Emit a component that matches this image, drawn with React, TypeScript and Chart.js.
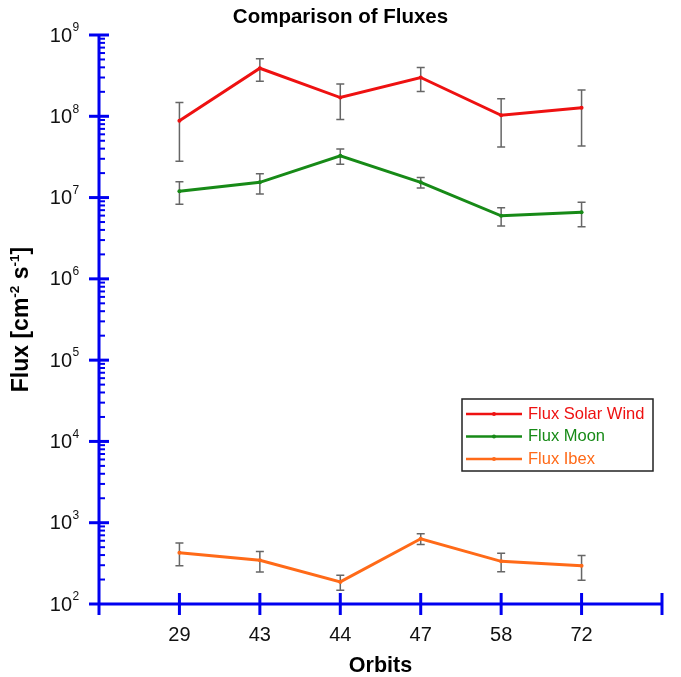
import React, { useEffect, useRef } from "react";
import { Chart, registerables } from "chart.js";

Chart.register(...registerables);

// Orbit numbers along the x axis
const orbits = ["29", "43", "44", "47", "58", "72"];

// Flux values [cm^-2 s^-1] with symmetric error bars
const solarWind = [8.8e7, 3.9e8, 1.7e8, 3.0e8, 1.03e8, 1.27e8];
const solarWindErr = [6.0e7, 1.2e8, 7.9e7, 9.8e7, 6.1e7, 8.4e7];

const moon = [1.2e7, 1.54e7, 3.27e7, 1.54e7, 5.97e6, 6.58e6];
const moonErr = [3.7e6, 4.3e6, 7.0e6, 2.3e6, 1.5e6, 2.2e6];

const ibex = [428, 345, 187, 635, 335, 296];
const ibexErr = [133, 97, 39, 95, 85, 100];

// Decade exponents shown on the y axis
const yExponents = [2, 3, 4, 5, 6, 7, 8, 9];

const RED = "#ee1111";
const GREEN = "#178a17";
const ORANGE = "#ff6a18";
const BLUE = "#0000f0";
const FONT = "'Liberation Sans', Arial, sans-serif";

const seriesList = [
  { label: "Flux Solar Wind", values: solarWind, errors: solarWindErr, color: RED },
  { label: "Flux Moon", values: moon, errors: moonErr, color: GREEN },
  { label: "Flux Ibex", values: ibex, errors: ibexErr, color: ORANGE },
];

const errorBarPlugin = {
  id: "errorBars",
  beforeDatasetsDraw(chart: any) {
    const { ctx } = chart;
    const xs = chart.scales.x;
    const ys = chart.scales.y;
    ctx.save();
    ctx.strokeStyle = "#666666";
    ctx.lineWidth = 1.5;
    seriesList.forEach((s) => {
      s.values.forEach((v, i) => {
        const px = xs.getPixelForValue(i + 1);
        const top = ys.getPixelForValue(v + s.errors[i]);
        const bot = ys.getPixelForValue(v - s.errors[i]);
        ctx.beginPath();
        ctx.moveTo(px, top);
        ctx.lineTo(px, bot);
        ctx.moveTo(px - 4, top);
        ctx.lineTo(px + 4, top);
        ctx.moveTo(px - 4, bot);
        ctx.lineTo(px + 4, bot);
        ctx.stroke();
      });
    });
    ctx.restore();
  },
};

const axesPlugin = {
  id: "fluxAxes",
  afterDraw(chart: any) {
    const { ctx, chartArea } = chart;
    const xs = chart.scales.x;
    const ys = chart.scales.y;
    const left = chartArea.left;
    const bottom = chartArea.bottom;
    ctx.save();
    ctx.strokeStyle = BLUE;
    ctx.lineCap = "butt";

    // y axis line
    ctx.lineWidth = 3;
    ctx.beginPath();
    ctx.moveTo(left, ys.getPixelForValue(1e9) - 1);
    ctx.lineTo(left, bottom + 1);
    ctx.stroke();

    // y major ticks
    yExponents.forEach((e) => {
      const py = ys.getPixelForValue(Math.pow(10, e));
      ctx.lineWidth = 3;
      ctx.beginPath();
      ctx.moveTo(left - 10, py);
      ctx.lineTo(left + (e === 2 ? 0 : 10), py);
      ctx.stroke();
    });
    // y minor ticks
    ctx.lineWidth = 2;
    yExponents.slice(0, -1).forEach((e) => {
      for (let m = 2; m <= 9; m++) {
        const py = ys.getPixelForValue(m * Math.pow(10, e));
        ctx.beginPath();
        ctx.moveTo(left, py);
        ctx.lineTo(left + 6, py);
        ctx.stroke();
      }
    });

    // x axis line
    const xEnd = xs.getPixelForValue(7);
    ctx.lineWidth = 3;
    ctx.beginPath();
    ctx.moveTo(left, bottom);
    ctx.lineTo(xEnd + 1, bottom);
    ctx.stroke();
    for (let k = 1; k <= 7; k++) {
      const px = xs.getPixelForValue(k);
      ctx.beginPath();
      ctx.moveTo(px, bottom - 11);
      ctx.lineTo(px, bottom + 11);
      ctx.stroke();
    }
    // extra crossing tick under the y axis
    ctx.beginPath();
    ctx.moveTo(left, bottom);
    ctx.lineTo(left, bottom + 11);
    ctx.stroke();

    // x tick labels
    ctx.fillStyle = "#111111";
    ctx.font = `20px ${FONT}`;
    ctx.textAlign = "center";
    ctx.textBaseline = "middle";
    orbits.forEach((o, i) => {
      ctx.fillText(o, xs.getPixelForValue(i + 1), bottom + 31);
    });

    // y tick labels as 10 with a superscript exponent
    yExponents.forEach((e) => {
      const py = ys.getPixelForValue(Math.pow(10, e));
      ctx.font = `20px ${FONT}`;
      ctx.textAlign = "right";
      ctx.textBaseline = "middle";
      ctx.fillText("10", left - 27, py + 1);
      ctx.font = `12px ${FONT}`;
      ctx.textAlign = "left";
      ctx.fillText(String(e), left - 26.5, py - 7);
    });

    // title
    ctx.font = `bold 20.5px ${FONT}`;
    ctx.textAlign = "center";
    ctx.textBaseline = "middle";
    ctx.fillStyle = "#000000";
    ctx.fillText("Comparison of Fluxes", (left + xEnd) / 2 - 40, 17);

    // x axis title
    ctx.font = `bold 21.5px ${FONT}`;
    ctx.fillText("Orbits", (left + xEnd) / 2, bottom + 62);

    // y axis title with superscripts
    const parts = [
      { t: "Flux [cm", sup: false },
      { t: "-2", sup: true },
      { t: " s", sup: false },
      { t: "-1", sup: true },
      { t: "]", sup: false },
    ];
    const fontFor = (sup: boolean) => (sup ? `bold 13.5px ${FONT}` : `bold 23px ${FONT}`);
    let total = 0;
    parts.forEach((p) => {
      ctx.font = fontFor(p.sup);
      total += ctx.measureText(p.t).width;
    });
    ctx.save();
    ctx.translate(22, (chartArea.top + bottom) / 2);
    ctx.rotate(-Math.PI / 2);
    ctx.textAlign = "left";
    ctx.textBaseline = "middle";
    let cx = -total / 2;
    parts.forEach((p) => {
      ctx.font = fontFor(p.sup);
      ctx.fillText(p.t, cx, p.sup ? -7 : 0);
      cx += ctx.measureText(p.t).width;
    });
    ctx.restore();

    // legend
    const bx = xEnd - 200;
    const by = 399;
    const bw = 191;
    const bh = 72;
    ctx.fillStyle = "#ffffff";
    ctx.fillRect(bx, by, bw, bh);
    ctx.strokeStyle = "#222222";
    ctx.lineWidth = 1.5;
    ctx.strokeRect(bx, by, bw, bh);
    seriesList.forEach((s, i) => {
      const ry = by + 15 + i * 22.5;
      ctx.strokeStyle = s.color;
      ctx.lineWidth = 2.5;
      ctx.beginPath();
      ctx.moveTo(bx + 4, ry);
      ctx.lineTo(bx + 60, ry);
      ctx.stroke();
      ctx.fillStyle = s.color;
      ctx.beginPath();
      ctx.arc(bx + 32, ry, 2, 0, Math.PI * 2);
      ctx.fill();
      ctx.font = `16.5px ${FONT}`;
      ctx.textAlign = "left";
      ctx.textBaseline = "middle";
      ctx.fillText(s.label, bx + 66, ry);
    });

    ctx.restore();
  },
};

export default function App() {
  const canvasRef = useRef<HTMLCanvasElement | null>(null);

  useEffect(() => {
    const canvas = canvasRef.current;
    if (!canvas) return;
    const chart = new Chart(canvas, {
      type: "line",
      data: {
        datasets: seriesList.map((s) => ({
          label: s.label,
          data: s.values.map((v, i) => ({ x: i + 1, y: v })),
          borderColor: s.color,
          backgroundColor: s.color,
          borderWidth: 3,
          pointRadius: 2,
          pointBorderWidth: 0,
          tension: 0,
        })),
      },
      options: {
        animation: false,
        responsive: false,
        maintainAspectRatio: false,
        layout: { padding: { left: 99, right: 19, top: 35, bottom: 73 } },
        plugins: {
          legend: { display: false },
          tooltip: { enabled: false },
        },
        scales: {
          x: { type: "linear", min: 0, max: 7, display: false },
          y: { type: "logarithmic", min: 100, max: 1e9, display: false },
        },
      },
      plugins: [errorBarPlugin, axesPlugin],
    });
    return () => chart.destroy();
  }, []);

  return (
    <div style={{ position: "fixed", left: 0, top: 0, width: 681, height: 677, background: "#ffffff" }}>
      <canvas ref={canvasRef} width={681} height={677} style={{ display: "block" }} />
    </div>
  );
}
